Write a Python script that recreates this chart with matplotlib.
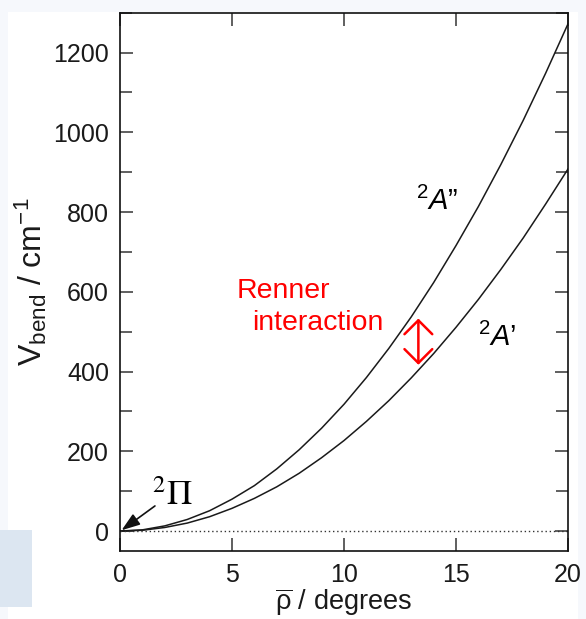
import matplotlib
matplotlib.use("Agg")
import matplotlib.pyplot as plt
from matplotlib.patches import Rectangle, FancyArrowPatch
from matplotlib.ticker import MultipleLocator

plt.rcParams['font.family'] = ['Liberation Sans', 'DejaVu Sans']
plt.rcParams['mathtext.fontset'] = 'custom'
plt.rcParams['mathtext.rm'] = 'Liberation Sans'
plt.rcParams['mathtext.it'] = 'Liberation Sans:italic'
plt.rcParams['mathtext.bf'] = 'Liberation Sans:bold'

# Bending angle (degrees) and potential curves (cm-1)
rho = [0, 1, 2, 3, 4, 5, 6, 7, 8, 9, 10,
       11, 12, 13, 14, 15, 16, 17, 18, 19, 20]
v_a2 = [0, 3, 13, 29, 51, 80, 114, 156, 204, 258, 318,
        385, 458, 537, 623, 716, 814, 919, 1030, 1148, 1272]
v_a1 = [0, 2, 9, 20, 36, 57, 82, 111, 145, 184, 227,
        275, 327, 384, 445, 511, 581, 656, 735, 820, 908]

x_ticks = [0, 5, 10, 15, 20]
y_ticks = [0, 200, 400, 600, 800, 1000, 1200]

fig = plt.figure(figsize=(5.86, 6.19), dpi=100, facecolor='#f6f8fc')

# slide background pieces
fig.patches.append(Rectangle((8 / 586, 0), 570 / 586, 1 - 12 / 619,
                             transform=fig.transFigure, facecolor='white',
                             edgecolor='none', zorder=-2))
fig.patches.append(Rectangle((0, 1 - 607 / 619), 32 / 586, 77 / 619,
                             transform=fig.transFigure, facecolor='#dce6f1',
                             edgecolor='none', zorder=-1))

ax = fig.add_axes([120 / 586, 1 - 551 / 619, 448 / 586, 538.3 / 619])
ax.set_facecolor('none')

ax.plot(rho, v_a2, color='#1a1a1a', lw=1.1)
ax.plot(rho, v_a1, color='#1a1a1a', lw=1.1)
ax.plot([rho[0], rho[-1]], [0, 0], color='#333333', lw=1, ls=(0, (1, 2)))

ax.set_xlim(0, 20)
ax.set_ylim(-50, 1300)
ax.set_xticks(x_ticks)
ax.set_yticks(y_ticks)
ax.yaxis.set_minor_locator(MultipleLocator(100))

ax.tick_params(which='both', direction='in', top=True, right=True,
               color='#444444', width=1.2, labelsize=18, labelcolor='#1a1a1a')
ax.tick_params(which='major', length=9.5)
ax.tick_params(which='minor', length=8.5)
ax.tick_params(axis='y', pad=8)
ax.tick_params(axis='x', pad=9)
for s in ax.spines.values():
    s.set_linewidth(1.2)
    s.set_color('#111111')

ax.set_xlabel(r'$\overline{\mathrm{\rho}}$ / degrees', fontsize=19.5, labelpad=-1,
              color='#1a1a1a')
ax.set_ylabel(r'$\mathrm{V}_{\mathrm{bend}}$ / cm$^{\mathrm{-1}}$', fontsize=23,
              labelpad=3, color='#1a1a1a')

# state labels
ax.text(14.15, 804, r'$^{2}A$”', fontsize=21, ha='center', va='baseline')
ax.text(16.83, 465, r'$^{2}A$’', fontsize=21, ha='center', va='baseline')
ax.text(1.45, 65, r'$^{2}\Pi$', fontsize=25, ha='left', va='baseline',
        math_fontfamily='stix')
ax.annotate('', xy=(0.07, 2), xytext=(1.56, 63),
            arrowprops=dict(arrowstyle='-|>,head_length=0.8,head_width=0.28',
                            color='#111111', lw=1.2, mutation_scale=14,
                            shrinkA=0, shrinkB=0))

# Renner interaction marker
ax.text(5.22, 603, 'Renner', fontsize=20.5, color='#ff0000', va='center')
ax.text(5.89, 523, 'interaction', fontsize=20.5, color='#ff0000', va='center')
ax.add_patch(FancyArrowPatch((13.32, 417), (13.32, 533),
                             arrowstyle='<->,head_length=0.5,head_width=0.5',
                             mutation_scale=20, color='#ff0000', lw=1.8,
                             shrinkA=0, shrinkB=0))

fig.savefig('out.png', dpi=100, facecolor=fig.get_facecolor())
